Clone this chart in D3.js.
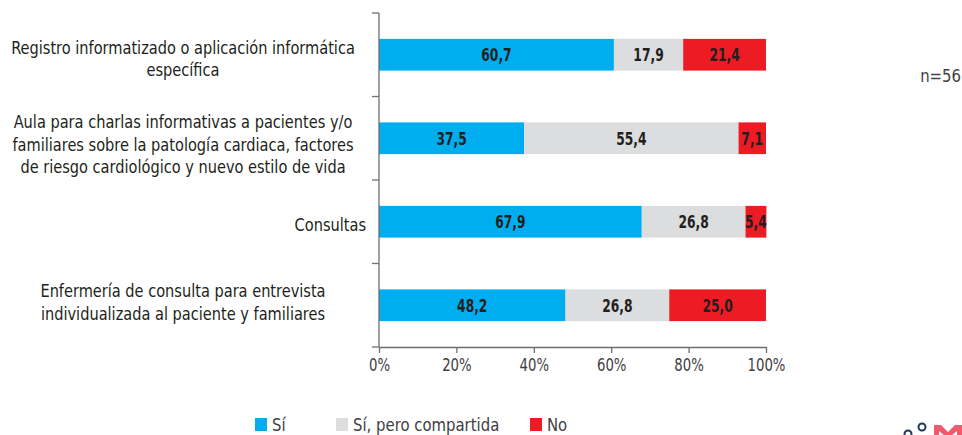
<!DOCTYPE html>
<html><head><meta charset="utf-8">
<script src="https://cdn.jsdelivr.net/npm/d3@7"></script>
<style>
body{margin:0;background:#fff;}
svg{display:block;font-family:"DejaVu Sans Condensed","DejaVu Sans",sans-serif;}
</style></head>
<body>
<svg id="chart" width="962" height="435"></svg>
<script>
const categories = [
  ["Registro informatizado o aplicación informática", "específica"],
  ["Aula para charlas informativas a pacientes y/o", "familiares sobre la patología cardiaca, factores", "de riesgo cardiológico y nuevo estilo de vida"],
  ["Consultas"],
  ["Enfermería de consulta para entrevista", "individualizada al paciente y familiares"]
];
const seriesNames = ["Sí", "Sí, pero compartida", "No"];
const siValues = [60.7, 37.5, 67.9, 48.2];
const compartidaValues = [17.9, 55.4, 26.8, 26.8];
const noValues = [21.4, 7.1, 5.4, 25.0];
const tickValues = [0, 20, 40, 60, 80, 100];
const colors = ["#00AEEF", "#DCDDDE", "#ED1C24"];
const sampleNote = "n=56";

const svg = d3.select("#chart");
const x = d3.scaleLinear().domain([0, 100]).range([379, 766]);
const y = d3.scaleBand().domain(d3.range(categories.length)).range([13, 347]).paddingInner(0.62).paddingOuter(0.31);

function squeeze(sel, cx, s) {
  sel.attr("transform", `translate(${cx},0) scale(${s},1) translate(${-cx},0)`);
}

const rows = categories.map((c, i) => ({i, vals: [siValues[i], compartidaValues[i], noValues[i]]}));
const segs = [];
rows.forEach(r => {
  let acc = 0;
  r.vals.forEach((v, k) => { segs.push({i: r.i, k, x0: acc, x1: acc + v, v}); acc += v; });
});

svg.append("g").selectAll("rect").data(segs).join("rect")
  .attr("x", d => x(d.x0)).attr("width", d => x(d.x1) - x(d.x0))
  .attr("y", d => y(d.i)).attr("height", y.bandwidth())
  .attr("fill", d => colors[d.k]);

svg.append("g").selectAll("text").data(segs).join("text")
  .attr("x", d => (x(d.x0) + x(d.x1)) / 2)
  .attr("y", d => y(d.i) + y.bandwidth() / 2)
  .attr("dy", "0.36em").attr("text-anchor", "middle")
  .attr("font-size", 18).attr("font-weight", "bold").attr("fill", "#231F20")
  .text(d => d.v.toFixed(1).replace(".", ","))
  .each(function(d) { squeeze(d3.select(this), (x(d.x0) + x(d.x1)) / 2, 0.76); });

// Y axis
const yAxisG = svg.append("g");
yAxisG.append("line").attr("x1", 379).attr("x2", 379).attr("y1", 13).attr("y2", 347).attr("stroke", "#6d6e71").attr("stroke-width", 1.3);
const yTicks = d3.range(categories.length + 1).map(i => 13 + i * (334 / categories.length));
yAxisG.selectAll("line.t").data(yTicks).join("line").attr("class", "t")
  .attr("x1", 372).attr("x2", 379).attr("y1", d => d).attr("y2", d => d)
  .attr("stroke", "#6d6e71").attr("stroke-width", 1.3);

// X axis
const xAxis = d3.axisBottom(x).tickValues(tickValues).tickFormat(d => d + "%").tickSize(6).tickSizeOuter(0);
const xg = svg.append("g").attr("transform", "translate(0,347)").call(xAxis);
xg.select(".domain").attr("stroke", "#6d6e71").attr("stroke-width", 1.3);
xg.selectAll(".tick line").attr("stroke", "#6d6e71").attr("stroke-width", 1.3);
xg.selectAll(".tick text").attr("font-size", 18).attr("fill", "#414042").attr("dy", "0.85em")
  .style("font-family", "\"DejaVu Sans Condensed\",sans-serif")
  .each(function() { squeeze(d3.select(this), 0, 0.82); });

// category labels
const lineH = 22.5;
const offsets = [4, 6, 3, -3];
const lab = svg.append("g").attr("font-size", 18).attr("fill", "#231F20");
categories.forEach((lines, i) => {
  const cy = y(i) + y.bandwidth() / 2 + offsets[i];
  const single = lines.length === 1;
  const ax = single ? 366 : 183;
  const t = lab.append("text")
    .attr("text-anchor", single ? "end" : "middle")
    .attr("x", ax);
  lines.forEach((ln, j) => {
    t.append("tspan").attr("x", ax)
      .attr("y", cy + (j - (lines.length - 1) / 2) * lineH)
      .attr("dy", "0.35em").text(ln);
  });
  squeeze(t, ax, 0.9);
});

// note
svg.append("text").attr("x", 961).attr("y", 76).attr("text-anchor", "end")
  .attr("font-size", 18).attr("fill", "#414042").attr("dy", "0.35em").text(sampleNote)
  .call(s => squeeze(s, 961, 0.92));

// legend
const legX = [255, 336, 530];
const lg = svg.append("g");
seriesNames.forEach((n, k) => {
  lg.append("rect").attr("x", legX[k]).attr("y", 418).attr("width", 12).attr("height", 13).attr("fill", colors[k]);
  lg.append("text").attr("x", legX[k] + 17).attr("y", 425).attr("dy", "0.36em")
    .attr("font-size", 18).attr("fill", "#414042").text(n)
    .call(s => squeeze(s, legX[k] + 17, 0.92));
});

// partial logo at the bottom-right corner (decorative shapes)
const logo = svg.append("g");
logo.append("circle").attr("cx", 908).attr("cy", 434).attr("r", 3.5).attr("fill", "none").attr("stroke", "#1d3a5a").attr("stroke-width", 2);
logo.append("circle").attr("cx", 922).attr("cy", 427).attr("r", 3.5).attr("fill", "none").attr("stroke", "#1d3a5a").attr("stroke-width", 2);
logo.append("path").attr("fill", "#EF5B6B")
  .attr("d", "M934,435 L934,425 L941,425 L948,432 L955,425 L962,425 L962,435 L957,435 L957,431 L950,437 L946,437 L939,431 L939,435 Z");
</script>
</body></html>
